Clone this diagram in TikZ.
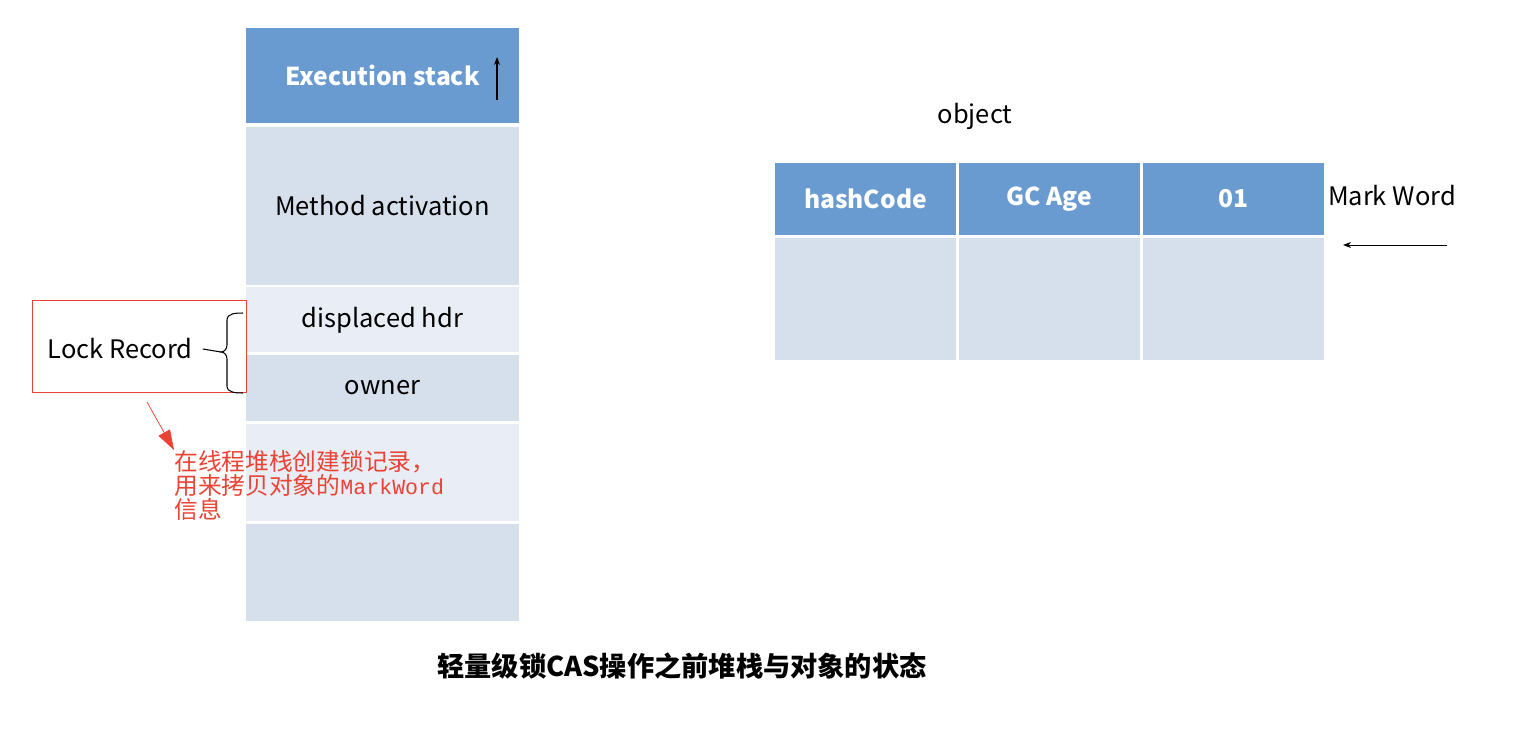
\documentclass[tikz,border=0pt]{standalone}
\usepackage{fontspec}
\setmainfont{Noto Sans CJK SC}
\setmonofont{Liberation Mono}
\usetikzlibrary{arrows.meta, positioning}
\definecolor{hdblue}{RGB}{106,155,208}
\definecolor{cellblue}{RGB}{214,223,236}
\definecolor{paleblue}{RGB}{233,238,246}
\definecolor{lockred}{RGB}{234,67,53}

\begin{document}
\begin{tikzpicture}[x=0.02cm, y=-0.02cm, node distance=0.05cm,
  hd/.style={rectangle, fill=hdblue, text=white, inner sep=0pt, outer sep=0pt, font=\fontsize{14}{16}\selectfont\bfseries},
  cell/.style={rectangle, fill=cellblue, inner sep=0pt, outer sep=0pt, font=\fontsize{14.5}{16}\selectfont},
  pale/.style={cell, fill=paleblue},
  stk/.style={minimum width=5.46cm},
  obj/.style={minimum width=3.62cm},
  txt/.style={inner sep=0pt, font=\fontsize{14.5}{16}\selectfont},
  note/.style={inner sep=0pt, text=lockred, align=left, font=\fontsize{13.5}{13.8}\selectfont},
  arr/.style={-{Stealth[length=1.6mm, width=1.2mm]}, thin},
  redarr/.style={-{Triangle[length=4mm, width=2.6mm]}, draw=lockred, fill=lockred, thin}
]
\useasboundingbox (0,0) rectangle (1532,730);
% execution stack
\node[hd, stk, minimum height=1.9cm, anchor=north west] (exec) at (246,28) {Execution stack};
\node[cell, stk, minimum height=3.16cm, below=0.08cm of exec] (meth) {Method activation};
\node[pale, stk, minimum height=1.3cm, below=of meth] (dhdr) {displaced hdr};
\node[cell, stk, minimum height=1.32cm, below=of dhdr] (owner) {owner};
\node[pale, stk, minimum height=1.94cm, below=0.06cm of owner] (free1) {};
\node[cell, stk, minimum height=1.94cm, below=0.06cm of free1] (free2) {};
\coordinate (up0) at (497,100);
\coordinate (up1) at (497,57);
\draw[arr, semithick] (up0) -- (up1);
% lock record
\node[draw=lockred, thick, minimum width=4.28cm, minimum height=1.84cm, anchor=north west] (lockbox) at (32,300) {};
\node[txt] (lock) at (120,349) {Lock Record};
\coordinate (brtip) at (221,352);
\draw[semithick] (243,313) to[out=180,in=90] (227,320) -- (227,345) to[out=-90,in=0] (brtip)
  to[out=0,in=90] (227,359) -- (227,386) to[out=-90,in=180] (243,393);
\draw[semithick] (lock.east) ++(0.2cm,0) -- (brtip);
\coordinate (rs) at (147,402);
\node[note, anchor=north west] (memo) at (174,450) {在线程堆栈创建锁记录，\\用来拷贝对象的{\ttfamily\fontsize{12.3}{13.8}\selectfont MarkWord}\\信息};
\draw[redarr] (rs) -- (memo.north west);
% object
\node[txt] (objt) at (975,116) {object};
\node[hd, obj, minimum height=1.44cm, anchor=north west] (hash) at (775,163) {hashCode};
\node[hd, obj, minimum height=1.44cm, right=0.06cm of hash] (age) {GC Age};
\node[hd, obj, minimum height=1.44cm, right=0.06cm of age] (flag) {01};
\node[cell, obj, minimum height=2.44cm, below=0.06cm of hash] (body1) {};
\node[cell, obj, minimum height=2.44cm, below=0.06cm of age] (body2) {};
\node[cell, obj, minimum height=2.44cm, below=0.06cm of flag] (body3) {};
\node[txt] (mark) at (1392,196) {Mark Word};
\coordinate (mw0) at (1447,245);
\coordinate (mw1) at (1343,245);
\draw[arr] (mw0) -- (mw1);
% caption
\node[inner sep=0pt, font=\fontsize{15.5}{18}\selectfont\bfseries] (cap) at (682,666) {轻量级锁CAS操作之前堆栈与对象的状态};
\end{tikzpicture}
\end{document}
